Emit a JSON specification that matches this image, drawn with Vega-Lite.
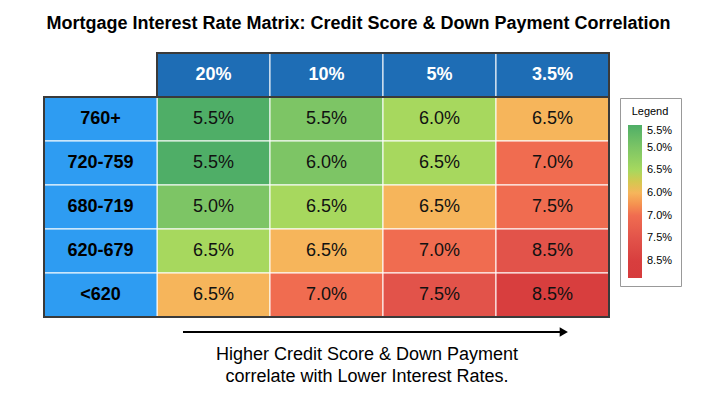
{
  "$schema": "https://vega.github.io/schema/vega-lite/v6.json",
  "width": 565,
  "height": 264,
  "autosize": "none",
  "padding": {"left": 44, "top": 53, "right": 108, "bottom": 83},
  "background": "white",
  "title": {
    "text": "Mortgage Interest Rate Matrix: Credit Score & Down Payment Correlation",
    "font": "Liberation Sans",
    "fontSize": 18,
    "fontWeight": "bold",
    "color": "black",
    "anchor": "middle",
    "frame": "group",
    "dx": 32,
    "offset": 19
  },
  "config": {
    "view": {"stroke": null},
    "font": "Liberation Sans",
    "axis": {"disable": true}
  },
  "datasets": {
    "cells": [
      {"row": "760+", "col": "20%", "rate": 0.055, "tier": 0},
      {"row": "760+", "col": "10%", "rate": 0.055, "tier": 1},
      {"row": "760+", "col": "5%", "rate": 0.06, "tier": 2},
      {"row": "760+", "col": "3.5%", "rate": 0.065, "tier": 3},
      {"row": "720-759", "col": "20%", "rate": 0.055, "tier": 0},
      {"row": "720-759", "col": "10%", "rate": 0.06, "tier": 1},
      {"row": "720-759", "col": "5%", "rate": 0.065, "tier": 2},
      {"row": "720-759", "col": "3.5%", "rate": 0.07, "tier": 4},
      {"row": "680-719", "col": "20%", "rate": 0.05, "tier": 1},
      {"row": "680-719", "col": "10%", "rate": 0.065, "tier": 2},
      {"row": "680-719", "col": "5%", "rate": 0.065, "tier": 3},
      {"row": "680-719", "col": "3.5%", "rate": 0.075, "tier": 4},
      {"row": "620-679", "col": "20%", "rate": 0.065, "tier": 2},
      {"row": "620-679", "col": "10%", "rate": 0.065, "tier": 3},
      {"row": "620-679", "col": "5%", "rate": 0.07, "tier": 4},
      {"row": "620-679", "col": "3.5%", "rate": 0.085, "tier": 5},
      {"row": "<620", "col": "20%", "rate": 0.065, "tier": 3},
      {"row": "<620", "col": "10%", "rate": 0.07, "tier": 4},
      {"row": "<620", "col": "5%", "rate": 0.075, "tier": 5},
      {"row": "<620", "col": "3.5%", "rate": 0.085, "tier": 6}
    ],
    "colHeads": [
      {"row": "Down Payment", "col": "20%"},
      {"row": "Down Payment", "col": "10%"},
      {"row": "Down Payment", "col": "5%"},
      {"row": "Down Payment", "col": "3.5%"}
    ],
    "rowHeads": [
      {"row": "760+", "col": "Credit Score"},
      {"row": "720-759", "col": "Credit Score"},
      {"row": "680-719", "col": "Credit Score"},
      {"row": "620-679", "col": "Credit Score"},
      {"row": "<620", "col": "Credit Score"}
    ],
    "one": [{"note": "Higher Credit Score & Down Payment\ncorrelate with Lower Interest Rates."}]
  },
  "layer": [
    {
      "data": {"name": "cells"},
      "mark": {"type": "rect", "stroke": "white", "strokeWidth": 1},
      "encoding": {
        "x": {"field": "col", "type": "nominal", "axis": null,
              "scale": {"domain": ["Credit Score", "20%", "10%", "5%", "3.5%"], "paddingInner": 0, "paddingOuter": 0}},
        "y": {"field": "row", "type": "nominal", "axis": null,
              "scale": {"domain": ["Down Payment", "760+", "720-759", "680-719", "620-679", "<620"], "paddingInner": 0, "paddingOuter": 0}},
        "color": {
          "field": "tier", "type": "quantitative",
          "scale": {
            "domain": [6.75, 6, 5, 4, 3, 2, 1, 0],
            "range": ["#d63b3c", "#d83e3e", "#e2534a", "#f06c50", "#f6b55b", "#a7d85e", "#7dc565", "#4fae67"]
          },
          "legend": {
            "title": "Legend",
            "orient": "none",
            "legendX": 576,
            "legendY": 45,
            "direction": "vertical",
            "values": [0, 1, 2, 3, 4, 5, 6],
            "labelExpr": "['5.5%','5.0%','6.5%','6.0%','7.0%','7.5%','8.5%'][datum.value]",
            "gradientLength": 153,
            "gradientThickness": 14,
            "gradientStrokeWidth": 0,
            "titleFontSize": 11,
            "titleFontWeight": "normal",
            "titleColor": "black",
            "titleAnchor": "middle",
            "titlePadding": 8,
            "labelFontSize": 11,
            "labelColor": "black",
            "labelOffset": 5,
            "labelOverlap": false,
            "strokeColor": "#999999",
            "fillColor": "white",
            "padding": 8
          }
        }
      }
    },
    {
      "data": {"name": "colHeads"},
      "mark": {"type": "rect", "fill": "#1e6db5", "stroke": "white", "strokeWidth": 1},
      "encoding": {
        "x": {"field": "col", "type": "nominal"},
        "y": {"field": "row", "type": "nominal"}
      }
    },
    {
      "data": {"name": "rowHeads"},
      "mark": {"type": "rect", "fill": "#2e9cf2", "stroke": "white", "strokeWidth": 1},
      "encoding": {
        "x": {"field": "col", "type": "nominal"},
        "y": {"field": "row", "type": "nominal"}
      }
    },
    {
      "data": {"name": "one"},
      "mark": {"type": "rect", "fill": null, "stroke": "#3a3a3a", "strokeWidth": 2},
      "encoding": {
        "x": {"datum": "Credit Score", "bandPosition": 0, "type": "nominal"},
        "x2": {"datum": "3.5%", "bandPosition": 1},
        "y": {"datum": "760+", "bandPosition": 0, "type": "nominal"},
        "y2": {"datum": "<620", "bandPosition": 1}
      }
    },
    {
      "data": {"name": "one"},
      "mark": {"type": "rect", "fill": null, "stroke": "#3a3a3a", "strokeWidth": 2},
      "encoding": {
        "x": {"datum": "20%", "bandPosition": 0, "type": "nominal"},
        "x2": {"datum": "3.5%", "bandPosition": 1},
        "y": {"datum": "Down Payment", "bandPosition": 0, "type": "nominal"},
        "y2": {"datum": "Down Payment", "bandPosition": 1}
      }
    },
    {
      "data": {"name": "cells"},
      "mark": {"type": "text", "fontSize": 18, "color": "#111111"},
      "encoding": {
        "x": {"field": "col", "type": "nominal"},
        "y": {"field": "row", "type": "nominal"},
        "text": {"field": "rate", "type": "quantitative", "format": ".1%"}
      }
    },
    {
      "data": {"name": "colHeads"},
      "mark": {"type": "text", "fontSize": 18, "fontWeight": "bold", "color": "white"},
      "encoding": {
        "x": {"field": "col", "type": "nominal"},
        "y": {"field": "row", "type": "nominal"},
        "text": {"field": "col"}
      }
    },
    {
      "data": {"name": "rowHeads"},
      "mark": {"type": "text", "fontSize": 18, "fontWeight": "bold", "color": "black"},
      "encoding": {
        "x": {"field": "col", "type": "nominal"},
        "y": {"field": "row", "type": "nominal"},
        "text": {"field": "row"}
      }
    },
    {
      "data": {"name": "one"},
      "mark": {"type": "rule", "color": "black", "strokeWidth": 2, "yOffset": 15},
      "encoding": {
        "x": {"datum": "20%", "bandPosition": 0.23, "type": "nominal"},
        "x2": {"datum": "3.5%", "bandPosition": 0.6},
        "y": {"datum": "<620", "bandPosition": 1, "type": "nominal"}
      }
    },
    {
      "data": {"name": "one"},
      "mark": {"type": "point", "shape": "triangle-right", "filled": true, "color": "black", "opacity": 1, "size": 90, "yOffset": 15},
      "encoding": {
        "x": {"datum": "3.5%", "bandPosition": 0.6, "type": "nominal"},
        "y": {"datum": "<620", "bandPosition": 1, "type": "nominal"}
      }
    },
    {
      "data": {"name": "one"},
      "mark": {"type": "text", "fontSize": 18, "color": "black", "baseline": "top", "align": "center", "lineBreak": "\n", "lineHeight": 22, "yOffset": 29, "dx": -16},
      "encoding": {
        "x": {"datum": "10%", "bandPosition": 1, "type": "nominal"},
        "y": {"datum": "<620", "bandPosition": 1, "type": "nominal"},
        "text": {"field": "note"}
      }
    }
  ]
}
